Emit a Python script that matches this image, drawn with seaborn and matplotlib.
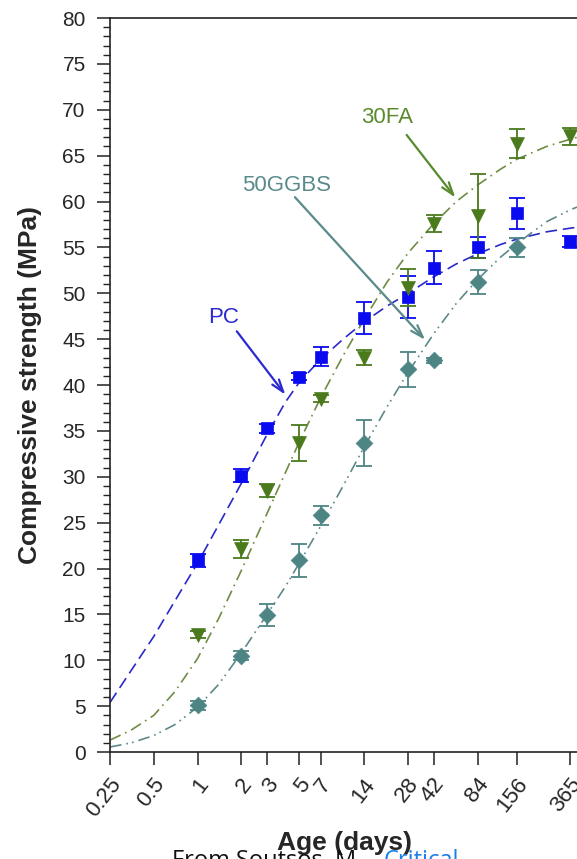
"""
Compressive strength vs age for PC, 30FA and 50GGBS mixes.
"""

import matplotlib.pyplot as plt
import seaborn as sns
from matplotlib.ticker import MultipleLocator, NullLocator
from matplotlib.transforms import ScaledTranslation

# tick positions on the age axis
AGE_TICKS = [0.25, 0.5, 1, 2, 3, 5, 7, 14, 28, 42, 84, 156, 365]
AGE_LABELS = ["0.25", "0.5", "1", "2", "3", "5", "7", "14", "28", "42", "84", "156", "365"]

# measured strengths (MPa) with error bars
PC_AGE = [1, 2, 3, 5, 7, 14, 28, 42, 84, 156, 365]
PC_MEAN = [20.9, 30.1, 35.3, 40.9, 43.1, 47.3, 49.6, 52.8, 55.0, 58.7, 55.6]
PC_ERR = [0.7, 0.7, 0.5, 0.4, 1.0, 1.7, 2.3, 1.8, 1.1, 1.7, 0.6]

FA_AGE = [1, 2, 3, 5, 7, 14, 28, 42, 84, 156, 365]
FA_MEAN = [12.8, 22.1, 28.5, 33.7, 38.5, 43.0, 50.6, 57.6, 58.4, 66.3, 67.1]
FA_ERR = [0.4, 1.0, 0.7, 2.0, 0.4, 0.8, 2.0, 0.9, 4.6, 1.6, 0.9]

GG_AGE = [1, 2, 3, 5, 7, 14, 28, 42, 84, 156]
GG_MEAN = [5.1, 10.5, 14.9, 20.9, 25.8, 33.7, 41.7, 42.7, 51.2, 55.0]
GG_ERR = [0.5, 0.5, 1.2, 1.8, 1.0, 2.5, 1.9, 0.3, 1.3, 1.0]

# fitted trend curves
CURVE_AGE = [0.25, 0.35, 0.5, 0.7, 1, 1.4, 2, 3, 4, 5, 7, 10, 14, 20, 28, 42, 60, 84,
             120, 156, 250, 365, 405]
PC_FIT = [5.4, 8.9, 12.6, 16.5, 20.6, 24.8, 29.3, 34.6, 38.1, 40.3, 42.8, 45.0, 46.9,
          48.6, 50.0, 51.8, 53.2, 54.3, 55.3, 55.9, 56.7, 57.1, 57.2]
FA_FIT = [1.3, 2.4, 4.0, 6.6, 10.2, 14.6, 19.8, 26.0, 30.4, 33.8, 38.6, 43.2, 47.2,
          51.2, 54.4, 57.6, 60.0, 61.8, 63.5, 64.6, 66.0, 66.8, 67.0]
GG_FIT = [0.55, 1.0, 1.8, 3.0, 4.9, 7.4, 10.8, 15.0, 18.0, 20.6, 24.6, 29.0, 33.3,
          37.6, 41.4, 45.6, 48.9, 51.5, 53.9, 55.4, 57.8, 59.1, 59.4]

PC_COLOR = "#0a0af0"
PC_LINE = "#2a2ac8"
FA_COLOR = "#4a7a1c"
FA_LINE = "#6e8c44"
GG_COLOR = "#4d8585"
GG_LINE = "#5e8888"

sns.set_style("ticks")
plt.rcParams["font.family"] = ["Liberation Sans", "DejaVu Sans"]

fig = plt.figure(figsize=(5.77, 8.59), dpi=100)
ax = fig.add_axes([0.1906, 0.1245, 0.8094, 0.8545])
ax.set_xscale("log")

series = [
    (CURVE_AGE, PC_FIT, PC_LINE, (0, (7, 3.5))),
    (CURVE_AGE, FA_FIT, FA_LINE, (0, (7, 3, 1, 3))),
    (CURVE_AGE, GG_FIT, GG_LINE, (0, (7, 3, 1, 2.5, 1, 3))),
]
for x, y, c, ls in series:
    sns.lineplot(x=x, y=y, ax=ax, color=c, lw=1.2, linestyle=ls,
                 sort=False, estimator=None)

points = [
    (PC_AGE, PC_MEAN, PC_ERR, PC_COLOR, "s", 9.0),
    (FA_AGE, FA_MEAN, FA_ERR, FA_COLOR, "v", 10.0),
    (GG_AGE, GG_MEAN, GG_ERR, GG_COLOR, "D", 8.5),
]
for x, y, e, c, m, ms in points:
    ax.errorbar(x, y, yerr=e, fmt="none", ecolor=c, elinewidth=1.3,
                capsize=6, capthick=1.3, zorder=3)
    sns.scatterplot(x=x, y=y, ax=ax, color=c, marker=m, s=ms ** 2,
                    edgecolor=c, linewidth=0.5, zorder=4)

# labels with arrows
arrow = "->,head_length=0.9,head_width=0.3"
ax.text(1.50, 47.4, "PC", color="#2a2ad0", fontsize=16, ha="center", va="center")
ax.annotate("", xy=(4.12, 38.7), xytext=(1.81, 46.1),
            arrowprops=dict(arrowstyle=arrow, color="#2a2ad0", lw=1.6))
ax.text(20.0, 69.2, "30FA", color="#5a8a2e", fontsize=16, ha="center", va="center")
ax.annotate("", xy=(60.7, 60.2), xytext=(26.6, 67.5),
            arrowprops=dict(arrowstyle=arrow, color="#5a8a2e", lw=1.6))
ax.text(4.12, 61.7, "50GGBS", color="#5a8a8a", fontsize=16, ha="center", va="center")
ax.annotate("", xy=(37.7, 44.7), xytext=(4.53, 60.7),
            arrowprops=dict(arrowstyle=arrow, color="#5a8a8a", lw=1.6))

ax.set_xlim(0.25, 405)
ax.set_ylim(0, 80)
ax.set_xticks(AGE_TICKS)
ax.set_xticklabels(AGE_LABELS, rotation=52, ha="right", va="center",
                   rotation_mode="anchor")
ax.xaxis.set_minor_locator(NullLocator())
ax.yaxis.set_major_locator(MultipleLocator(5))
ax.yaxis.set_minor_locator(MultipleLocator(1))
ax.tick_params(axis="both", which="major", direction="out", length=9.5, width=1.1,
               color="#222222")
ax.tick_params(axis="y", which="major", labelsize=15, pad=8)
ax.tick_params(axis="x", which="major", labelsize=16, pad=11)
ax.tick_params(axis="y", which="minor", direction="out", length=5, width=1.0,
               color="#222222")
shift = ScaledTranslation(5 / 72, 0, fig.dpi_scale_trans)
for lab in ax.get_xticklabels():
    lab.set_transform(lab.get_transform() + shift)

ax.set_xlabel("Age (days)", fontsize=19, fontweight="bold")
ax.set_ylabel("Compressive strength (MPa)", fontsize=19, fontweight="bold")
ax.xaxis.set_label_coords(0.503, -0.107)
ax.yaxis.set_label_coords(-0.146, 0.5)

for side in ["left", "top", "bottom"]:
    ax.spines[side].set_linewidth(1.2)
    ax.spines[side].set_color("#222222")
ax.spines["right"].set_visible(False)

# source caption, cut by the lower edge
fig.text(0.298, 0.012, "From Soutsos, M., ", fontsize=17, va="top",
         family=["Open Sans", "DejaVu Sans"], color="#111111", zorder=0)
fig.text(0.664, 0.012, "Critical", fontsize=17, va="top",
         family=["Open Sans", "DejaVu Sans"], color="#1a7fe8", zorder=0)

fig.savefig("out.png", dpi=100)
plt.close(fig)
